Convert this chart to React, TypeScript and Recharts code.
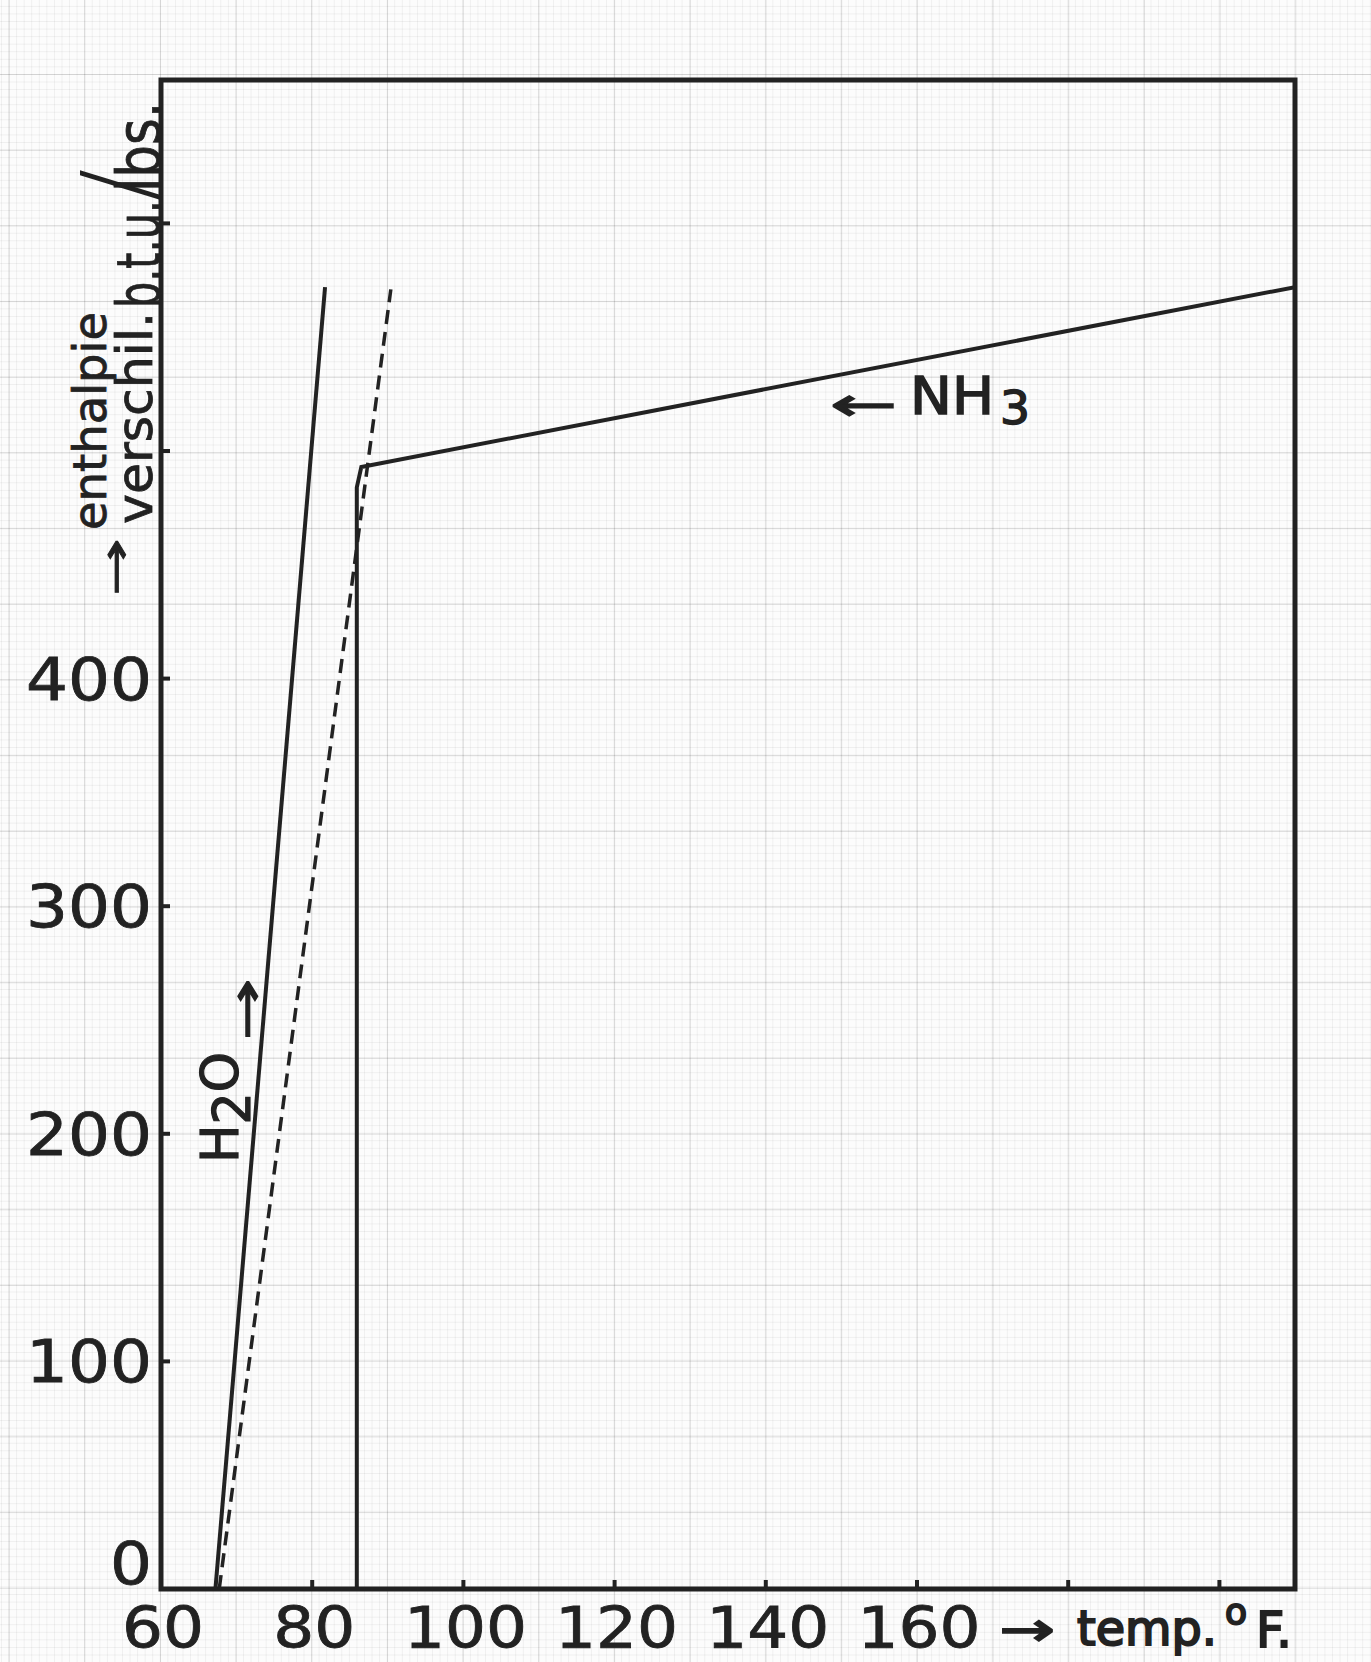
import React from "react";
import { ComposedChart, Line, XAxis, YAxis, ReferenceArea } from "recharts";

// temp in °F, enthalpie verschil in b.t.u./lbs.
const xTicks = [60, 80, 100, 120, 140, 160, 180, 200];
const xTickLabels = ["60", "80", "100", "120", "140", "160", "", ""];
const yTicks = [0, 100, 200, 300, 400, 500, 600];
const yTickLabels = ["0", "100", "200", "300", "400", "", ""];

const h2oTemp = [67.2, 81.7];
const h2oEnthalpy = [0, 572];
const dashedTemp = [67.7, 90.4];
const dashedEnthalpy = [0, 571];
const nh3Temp = [85.9, 85.9, 86.5, 210];
const nh3Enthalpy = [0, 484, 493, 572];

const toPoints = (t: number[], h: number[]) => t.map((temp, i) => ({ temp, enth: h[i] }));

const h2oData = toPoints(h2oTemp, h2oEnthalpy);
const dashedData = toPoints(dashedTemp, dashedEnthalpy);
const nh3Data = toPoints(nh3Temp, nh3Enthalpy);

const INK = "#222";
const FONT = "DejaVu Sans";

function XTick(props: any) {
  const { x, y, payload } = props;
  const label = xTickLabels[xTicks.indexOf(payload.value)];
  return (
    <g>
      {payload.value > 60 && <line x1={x} x2={x} y1={y} y2={y - 9} stroke={INK} strokeWidth={4} />}
      {label && (
        <text x={x + 2} y={y + 59} textAnchor="middle" fontSize={57} fontFamily={FONT} fill={INK}
          stroke={INK} strokeWidth={0.8}
          textLength={label.length * 41} lengthAdjust="spacingAndGlyphs">
          {label}
        </text>
      )}
    </g>
  );
}

function YTick(props: any) {
  const { x, y, payload } = props;
  const label = yTickLabels[yTicks.indexOf(payload.value)];
  const cy = payload.value === 0 ? y - 26 : y;
  return (
    <g>
      {payload.value > 0 && <line x1={x} x2={x + 9} y1={y} y2={y} stroke={INK} strokeWidth={4} />}
      {label && (
        <text x={x - 9} y={cy + 21} textAnchor="end" fontSize={58} fontFamily={FONT} fill={INK}
          stroke={INK} strokeWidth={0.8}
          textLength={label.length * 42} lengthAdjust="spacingAndGlyphs">
          {label}
        </text>
      )}
    </g>
  );
}

export default function App() {
  return (
    <div
      style={{
        position: "absolute",
        left: 0,
        top: 0,
        width: 1371,
        height: 1662,
        backgroundColor: "#fcfcfc",
        backgroundImage:
          "linear-gradient(to right, rgba(0,0,0,0.12) 1px, transparent 1px)," +
          "linear-gradient(to bottom, rgba(0,0,0,0.12) 1px, transparent 1px)," +
          "linear-gradient(to right, rgba(0,0,0,0.05) 1px, transparent 1px)," +
          "linear-gradient(to bottom, rgba(0,0,0,0.05) 1px, transparent 1px)",
        backgroundSize: "75.7px 75.7px, 75.7px 75.7px, 7.57px 7.57px, 7.57px 7.57px",
        backgroundPosition: "8.6px 74px, 8.6px 74px, 1px 5.9px, 1px 5.9px",
      }}
    >
      <ComposedChart width={1371} height={1662} margin={{ top: 80, right: 76, left: 0, bottom: 0 }}>
        <XAxis
          type="number"
          dataKey="temp"
          domain={[60, 210]}
          ticks={xTicks}
          interval={0}
          height={73}
          axisLine={false}
          tickLine={false}
          tickSize={0}
          tickMargin={0}
          tick={(p: any) => <XTick {...p} />}
          allowDataOverflow
        />
        <YAxis
          type="number"
          dataKey="enth"
          domain={[0, 663]}
          ticks={yTicks}
          interval={0}
          width={161}
          axisLine={false}
          tickLine={false}
          tickSize={0}
          tickMargin={0}
          tick={(p: any) => <YTick {...p} />}
          allowDataOverflow
        />
        <ReferenceArea x1={60} x2={210} y1={0} y2={663} fill="none" stroke={INK} strokeWidth={5} />
        <Line data={h2oData} dataKey="enth" stroke={INK} strokeWidth={4} dot={false} isAnimationActive={false} />
        <Line data={dashedData} dataKey="enth" stroke={INK} strokeWidth={3.5} strokeDasharray="14 8" dot={false} isAnimationActive={false} />
        <Line data={nh3Data} dataKey="enth" stroke={INK} strokeWidth={4} dot={false} isAnimationActive={false} />
      </ComposedChart>

      <svg width={1371} height={1662} style={{ position: "absolute", left: 0, top: 0, pointerEvents: "none" }}>
        <g fontFamily={FONT} fill={INK} stroke={INK} strokeWidth={0.8}>
          {/* y-as titel */}
          <text transform="translate(106,530) rotate(-90)" fontSize={47} textLength={218} lengthAdjust="spacingAndGlyphs">
            enthalpie
          </text>
          <text transform="translate(152,524) rotate(-90)" fontSize={50} textLength={212} lengthAdjust="spacingAndGlyphs">
            verschil.
          </text>
          <text transform="translate(160,308) rotate(-90)" fontSize={60} textLength={108} lengthAdjust="spacingAndGlyphs">
            b.t.u.
          </text>
          <text transform="translate(150,201) rotate(-90)" fontSize={96} fontWeight={200} stroke="none">
            /
          </text>
          <text transform="translate(160,192) rotate(-90)" fontSize={60} textLength={90} lengthAdjust="spacingAndGlyphs">
            lbs.
          </text>
          <text transform="translate(130,596) rotate(-90)" fontSize={42} textLength={58} lengthAdjust="spacingAndGlyphs">
            →
          </text>

          {/* x-as titel */}
          <text x={1000} y={1645} fontSize={46} strokeWidth={2} textLength={55} lengthAdjust="spacingAndGlyphs">→</text>
          <text x={1077} y={1645} fontSize={48} strokeWidth={2} textLength={140} lengthAdjust="spacingAndGlyphs">temp.</text>
          <text x={1225} y={1624} fontSize={36} strokeWidth={2}>o</text>
          <text x={1256} y={1647} fontSize={50} strokeWidth={2} textLength={36} lengthAdjust="spacingAndGlyphs">F.</text>

          {/* NH3 label */}
          <text x={830} y={420} fontSize={46} strokeWidth={1.5} textLength={67} lengthAdjust="spacingAndGlyphs">←</text>
          <text x={910} y={414} fontSize={51} strokeWidth={1.5} textLength={84} lengthAdjust="spacingAndGlyphs">NH</text>
          <text x={1000} y={424} fontSize={46} strokeWidth={1.5} textLength={30} lengthAdjust="spacingAndGlyphs">3</text>

          {/* H2O label */}
          <text transform="translate(238,1163) rotate(-90)" fontSize={51} strokeWidth={1.2}>
            <tspan>H</tspan>
            <tspan dy={12}>2</tspan>
            <tspan dy={-12}>O</tspan>
          </text>
          <text transform="translate(262,1040) rotate(-90)" fontSize={46} strokeWidth={1.2} textLength={62} lengthAdjust="spacingAndGlyphs">
            →
          </text>
        </g>
      </svg>
    </div>
  );
}
